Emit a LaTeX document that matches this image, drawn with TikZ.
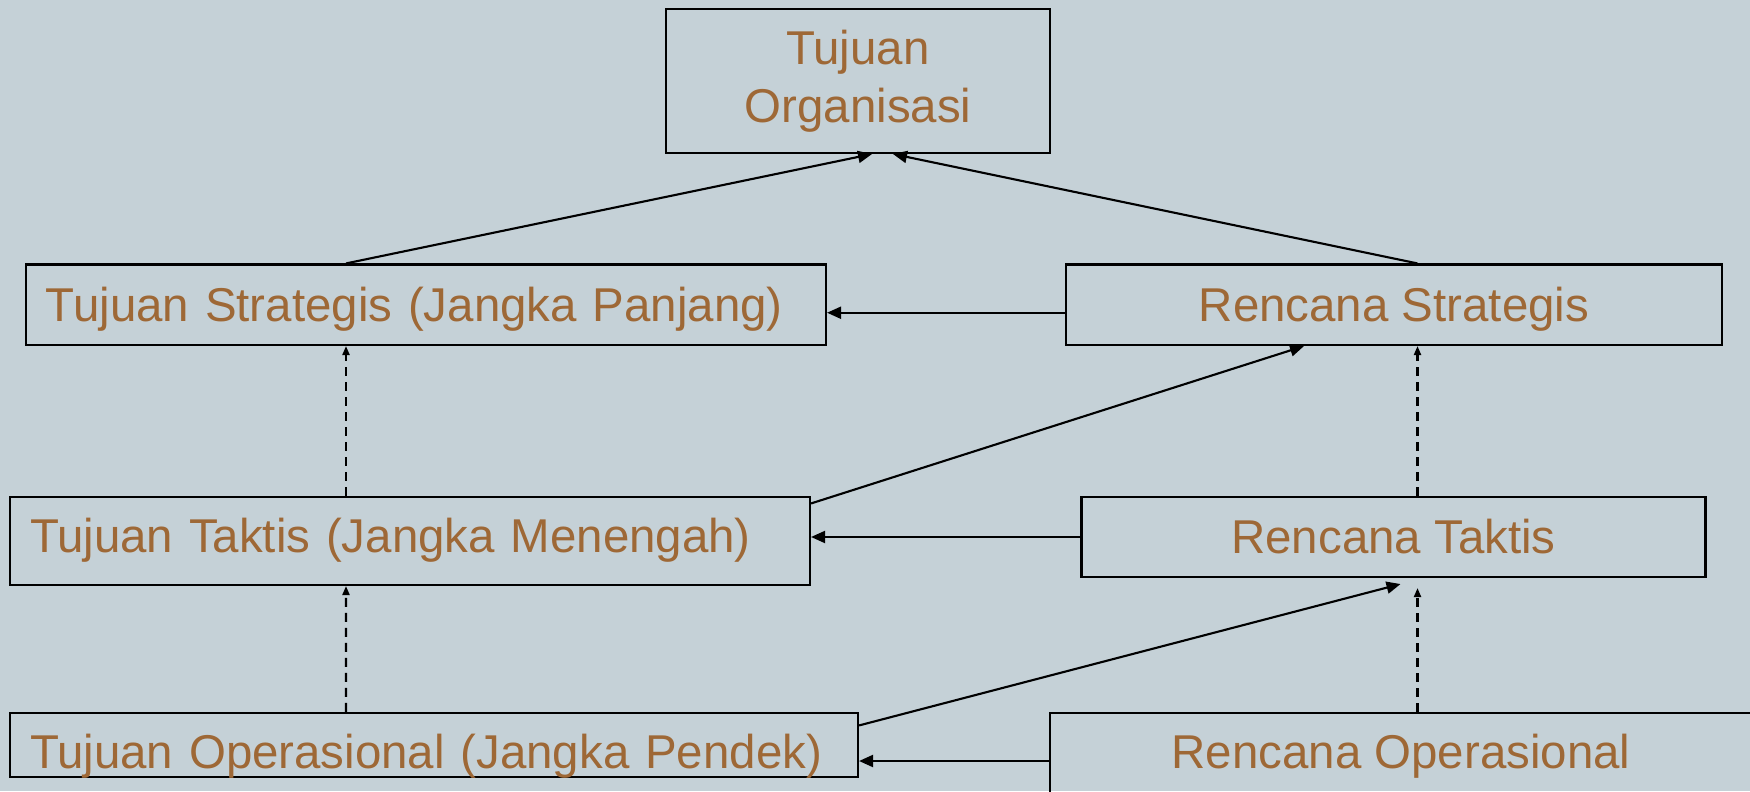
\documentclass[tikz,border=0pt]{standalone}
\usepackage{fontspec}
\setmainfont{Liberation Sans}
\usepackage{tikz}
\usetikzlibrary{positioning,calc,arrows.meta}
\definecolor{bgblue}{RGB}{197,209,215}
\definecolor{txtbrown}{RGB}{158,104,54}

\begin{document}
\begin{tikzpicture}[
    font=\fontsize{13.5}{16.4}\selectfont,
    box/.style={draw, line width=0.6pt, inner sep=0pt, text=txtbrown, text height=0.34cm, text depth=0pt},
    lbox/.style={box, inner xsep=0.2cm, text width=#1, align=left},
    topbox/.style={draw, line width=0.6pt, text=txtbrown, align=center, minimum width=3.84cm, minimum height=1.44cm},
    link/.style={line width=0.6pt, -{Triangle[length=0.14cm,width=0.12cm]}},
    dlink/.style={line width=0.6pt, dash pattern=on 0.09cm off 0.06cm, -{Triangle[length=0.09cm,width=0.07cm]}}
]
    % Background
    \fill[bgblue] (0,0) rectangle (17.5,7.91);
    \useasboundingbox (0,0) rectangle (17.5,7.91);

    % Goal
    \node[topbox] (O) at (8.58,7.10) {Tujuan\\Organisasi};

    % Goals
    \node[lbox=7.6cm, minimum height=0.805cm] (TS) at (4.26,4.8625) {Tujuan Strategis (Jangka Panjang)};
    \node[lbox=7.6cm, minimum height=0.88cm, text depth=0.1cm] (TT) at (4.10,2.50) {Tujuan Taktis (Jangka Menengah)};
    \node[lbox=8.08cm, minimum height=0.64cm, text height=0.47cm] (TO) at (4.34,0.46) {Tujuan Operasional (Jangka Pendek)};

    % Plans
    \node[box, minimum width=6.56cm, minimum height=0.805cm] (RS) at (13.94,4.8625) {Rencana Strategis};
    \node[box, minimum width=6.24cm, minimum height=0.80cm] (RT) at (13.935,2.54) {Rencana Taktis};
    \node[box, minimum width=7.02cm, minimum height=0.96cm, text depth=0.19cm] (RO) at (14.01,0.30) {Rencana Operasional};

    % Up to the goal
    \draw[link] ([xshift=-0.8cm]TS.north) -- ([xshift=0.14cm]O.south);
    \draw[link] ([xshift=0.235cm]RS.north) -- ([xshift=0.35cm]O.south);

    % Plans to goals
    \draw[link] ([yshift=-0.08cm]RS.west) -- ($(RS.west -| TS.east)+(0,-0.08)$);
    \draw[link] (RT.west) -- (RT.west -| TT.east);
    \draw[link] (RO.west) -- (RO.west -| TO.east);

    % Goals to plans
    \draw[link] ([yshift=-0.075cm]TT.north east) -- ([xshift=-0.9cm]RS.south);
    \draw[link] ([yshift=-0.135cm]TO.north east) -- ([xshift=0.07cm,yshift=-0.06cm]RT.south);

    % Dashed
    \draw[dlink] ([xshift=-0.64cm]TT.north) -- ($(TT.north |- TS.south)+(-0.64,0)$);
    \draw[dlink] ([xshift=-0.88cm]TO.north) -- ($(TO.north |- TT.south)+(-0.88,0)$);
    \draw[dlink] ([xshift=0.24cm]RT.north) -- ($(RT.north |- RS.south)+(0.24,0)$);
    \draw[dlink] ([xshift=0.165cm]RO.north) -- ($(RO.north |- RT.south)+(0.165,-0.1)$);

\end{tikzpicture}
\end{document}
